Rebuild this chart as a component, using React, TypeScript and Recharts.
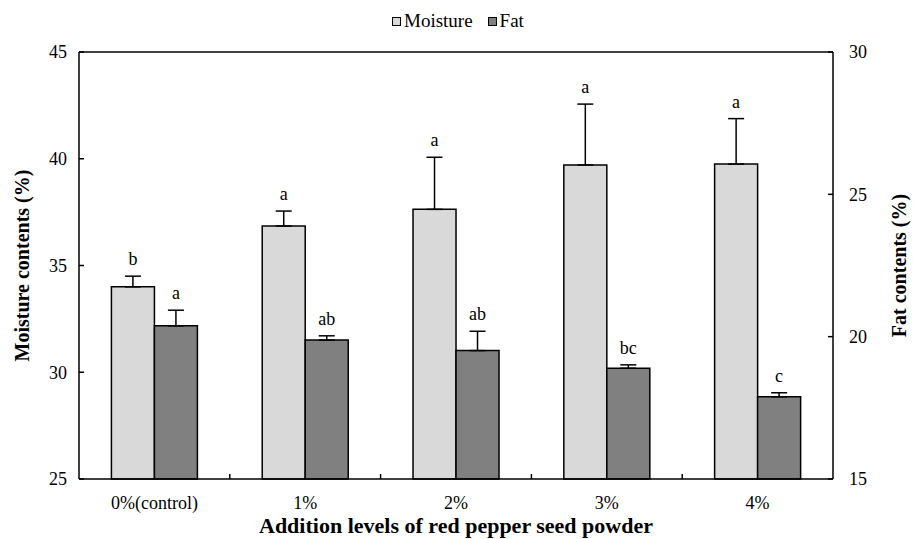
import { BarChart, Bar, XAxis, YAxis, ErrorBar, LabelList, ReferenceLine } from "recharts";

const categories = ["0%(control)", "1%", "2%", "3%", "4%"];
const moisture = [34.0, 36.85, 37.63, 39.71, 39.75];
const moistureErr = [0.5, 0.7, 2.44, 2.85, 2.13];
const moistureLetters = ["b", "a", "a", "a", "a"];
const fat = [20.38, 19.88, 19.51, 18.89, 17.89];
const fatErr = [0.55, 0.15, 0.68, 0.12, 0.14];
const fatLetters = ["a", "ab", "ab", "bc", "c"];

const moistureTicks = [25, 30, 35, 40, 45];
const fatTicks = [15, 20, 25, 30];

const FONT = "Liberation Serif, Times New Roman, serif";
const W = 913;
const H = 539;
const PLOT_LEFT = 79;
const PLOT_RIGHT = 833;
const CAT_W = (PLOT_RIGHT - PLOT_LEFT) / categories.length;

const data = categories.map((c, i) => ({
  name: c,
  moisture: moisture[i],
  moistureErr: [0, moistureErr[i]],
  fat: fat[i],
  fatErr: [0, fatErr[i]],
}));

// letter sits just above the error bar cap
function letterLabel(values: number[], errs: number[], letters: string[], base: number) {
  return (props: any) => {
    const { x, y, width, height, index } = props;
    const perUnit = height / (values[index] - base);
    const top = y - errs[index] * perUnit;
    return (
      <text x={x + width / 2} y={top - 11} textAnchor="middle" fontFamily={FONT} fontSize={18} fill="#000">
        {letters[index]}
      </text>
    );
  };
}

function CategoryTick(props: any) {
  const { x, y, payload, index } = props;
  return (
    <g>
      <text x={x} y={y + 30} textAnchor="middle" fontFamily={FONT} fontSize={18} fill="#000">
        {payload.value}
      </text>
      {index > 0 && (
        <line x1={x - CAT_W / 2} x2={x - CAT_W / 2} y1={y} y2={y - 5} stroke="#000" strokeWidth={1.5} />
      )}
    </g>
  );
}

function rotatedTitle(text: string, x: number, size: number) {
  return (p: any) => {
    const cy = p.viewBox.y + p.viewBox.height / 2;
    return (
      <text
        x={x}
        y={cy}
        transform={`rotate(-90 ${x} ${cy})`}
        textAnchor="middle"
        dominantBaseline="central"
        fontFamily={FONT}
        fontSize={size}
        fontWeight="bold"
        fill="#000"
      >
        {text}
      </text>
    );
  };
}

export default function App() {
  const tickStyle = { fill: "#000", fontSize: 18, fontFamily: FONT };
  const lineStyle = { stroke: "#000", strokeWidth: 1.5 };
  return (
    <div style={{ position: "absolute", left: 0, top: 0, width: W, height: H, background: "#fff" }}>
      <div
        style={{
          position: "absolute",
          left: 392,
          top: 11,
          display: "flex",
          alignItems: "center",
          fontFamily: FONT,
          fontSize: 19,
          lineHeight: "20px",
          color: "#000",
          zIndex: 2,
        }}
      >
        <span style={{ width: 7, height: 7, background: "#d9d9d9", border: "1.5px solid #000", marginRight: 3 }} />
        <span>Moisture</span>
        <span style={{ width: 7, height: 7, background: "#808080", border: "1.5px solid #000", marginLeft: 15, marginRight: 3 }} />
        <span>Fat</span>
      </div>
      <BarChart
        width={W}
        height={H}
        data={data}
        margin={{ top: 52, right: 0, bottom: 0, left: 0 }}
        barCategoryGap="21.5%"
        barGap={0}
      >
        <XAxis
          dataKey="name"
          height={60}
          interval={0}
          tickSize={0}
          tickMargin={0}
          tick={<CategoryTick />}
          tickLine={false}
          axisLine={lineStyle}
          label={{
            content: (p: any) => (
              <text
                x={(PLOT_LEFT + PLOT_RIGHT) / 2}
                y={p.viewBox.y + 54}
                textAnchor="middle"
                fontFamily={FONT}
                fontSize={22}
                fontWeight="bold"
                fill="#000"
              >
                Addition levels of red pepper seed powder
              </text>
            ),
          }}
        />
        <YAxis
          yAxisId="left"
          orientation="left"
          width={79}
          domain={[25, 45]}
          ticks={moistureTicks}
          interval={0}
          tickSize={-5}
          tickMargin={17}
          tick={tickStyle}
          axisLine={lineStyle}
          tickLine={lineStyle}
          label={{ content: rotatedTitle("Moisture contents (%)", 22, 20) }}
        />
        <YAxis
          yAxisId="right"
          orientation="right"
          width={80}
          domain={[15, 30]}
          ticks={fatTicks}
          interval={0}
          tickSize={-5}
          tickMargin={21}
          tick={tickStyle}
          axisLine={lineStyle}
          tickLine={lineStyle}
          label={{ content: rotatedTitle("Fat contents (%)", 899, 20) }}
        />
        <ReferenceLine yAxisId="left" y={45} stroke="#000" strokeWidth={1.5} />
        <Bar yAxisId="left" dataKey="moisture" fill="#d9d9d9" stroke="#000" strokeWidth={1.5} isAnimationActive={false}>
          <ErrorBar dataKey="moistureErr" width={8} stroke="#000" strokeWidth={1.5} direction="y" />
          <LabelList dataKey="moisture" content={letterLabel(moisture, moistureErr, moistureLetters, 25)} />
        </Bar>
        <Bar yAxisId="right" dataKey="fat" fill="#808080" stroke="#000" strokeWidth={1.5} isAnimationActive={false}>
          <ErrorBar dataKey="fatErr" width={8} stroke="#000" strokeWidth={1.5} direction="y" />
          <LabelList dataKey="fat" content={letterLabel(fat, fatErr, fatLetters, 15)} />
        </Bar>
      </BarChart>
    </div>
  );
}
